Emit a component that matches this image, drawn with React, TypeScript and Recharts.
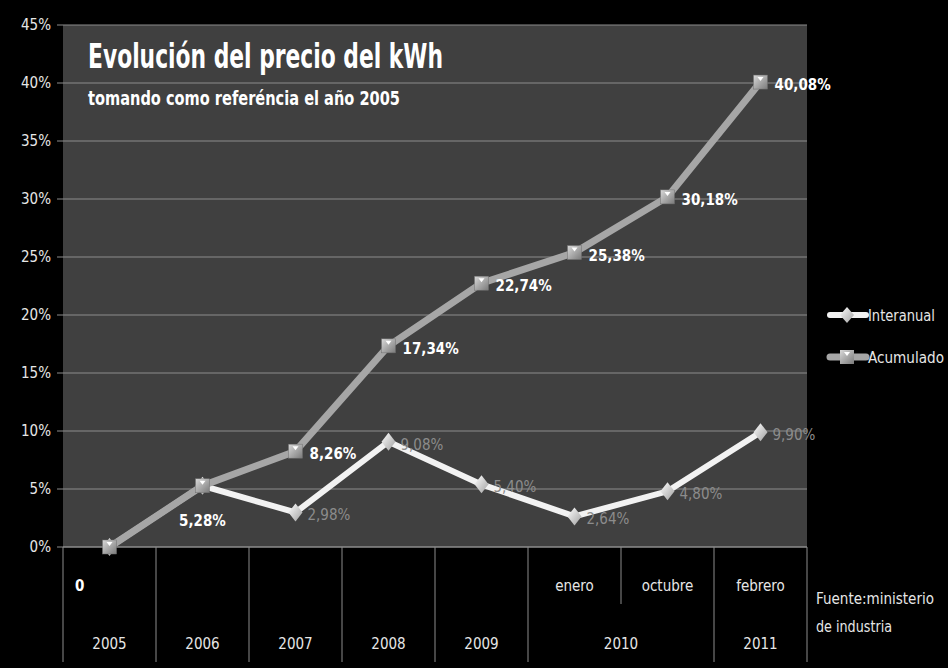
import { LineChart, Line, XAxis, YAxis, CartesianGrid, LabelList } from 'recharts';

const categories = ['2005', '2006', '2007', '2008', '2009', '2010 enero', '2010 octubre', '2011 febrero'];
const subLabels = ['0', '', '', '', '', 'enero', 'octubre', 'febrero'];
const yearLabels = ['2005', '2006', '2007', '2008', '2009', '2010', '', '2011'];
const interanual = [0, 5.28, 2.98, 9.08, 5.4, 2.64, 4.8, 9.9];
const acumulado = [0, 5.28, 8.26, 17.34, 22.74, 25.38, 30.18, 40.08];
const yTicks = [0, 5, 10, 15, 20, 25, 30, 35, 40, 45];

const data = categories.map((name, i) => ({
  name,
  interanual: interanual[i],
  acumulado: acumulado[i],
}));

const FONT = "'Liberation Sans Narrow', 'DejaVu Sans Condensed', 'Open Sans', sans-serif";
const HALF = 46.5;
const fmt = (v: number) => v.toFixed(2).replace('.', ',') + '%';

const CategoryTick = (props: any) => {
  const { x, y, index } = props;
  const left = x - HALF;
  const right = x + HALF;
  const sub = subLabels[index];
  const year = yearLabels[index];
  const yearX = index === 5 ? right : x;
  return (
    <g>
      {index !== 6 ? (
        <line x1={left} y1={y} x2={left} y2={y + 115} stroke="#8c8c8c" strokeWidth={1} />
      ) : (
        <line x1={left} y1={y} x2={left} y2={y + 57} stroke="#8c8c8c" strokeWidth={1} />
      )}
      {index === categories.length - 1 && (
        <line x1={right} y1={y} x2={right} y2={y + 115} stroke="#8c8c8c" strokeWidth={1} />
      )}
      {sub === '0' ? (
        <text x={left + 12} y={y + 44} fill="#ffffff" fontSize={15} fontWeight="bold" fontFamily={FONT}>
          {sub}
        </text>
      ) : sub ? (
        <text x={x} y={y + 44} fill="#e6e6e6" fontSize={15} textAnchor="middle" fontFamily={FONT}>
          {sub}
        </text>
      ) : null}
      {year && (
        <text x={yearX} y={y + 102} fill="#e6e6e6" fontSize={15} textAnchor="middle" fontFamily={FONT}>
          {year}
        </text>
      )}
    </g>
  );
};

const SquareDot = (props: any) => {
  const { cx, cy, index } = props;
  if (cx == null || cy == null) return null;
  return (
    <g key={`sq-${index}`}>
      <rect x={cx - 7} y={cy - 7} width={14} height={14} fill="url(#sqGrad)" stroke="#6e6e6e" strokeWidth={0.5} />
      <polygon points={`${cx - 3},${cy - 5} ${cx + 3},${cy - 5} ${cx},${cy - 1}`} fill="#ffffff" />
    </g>
  );
};

const DiamondDot = (props: any) => {
  const { cx, cy, index } = props;
  if (cx == null || cy == null) return null;
  return (
    <polygon
      key={`dm-${index}`}
      points={`${cx},${cy - 9} ${cx + 7},${cy} ${cx},${cy + 9} ${cx - 7},${cy}`}
      fill="url(#dmGrad)"
    />
  );
};

const AcumLabel = (props: any) => {
  const { x, y, index, value } = props;
  if (index === 0) return null;
  if (index === 1) {
    return (
      <text x={x} y={y + 40} fill="#ffffff" fontSize={15} fontWeight="bold" textAnchor="middle" fontFamily={FONT}>
        {fmt(value)}
      </text>
    );
  }
  return (
    <text x={x + 14} y={y + 8} fill="#ffffff" fontSize={15} fontWeight="bold" fontFamily={FONT}>
      {fmt(value)}
    </text>
  );
};

const InterLabel = (props: any) => {
  const { x, y, index, value } = props;
  if (index < 2) return null;
  return (
    <text x={x + 12} y={y + 8} fill="#8c8c8c" fontSize={15} fontFamily={FONT}>
      {fmt(value)}
    </text>
  );
};

export default function App() {
  return (
    <div style={{ position: 'absolute', left: 0, top: 0, width: 948, height: 668, background: '#000' }}>
      <LineChart
        width={948}
        height={668}
        data={data}
        margin={{ top: 25, right: 141, bottom: 0, left: 0 }}
      >
        <defs>
          <linearGradient id="sqGrad" x1="0" y1="0" x2="1" y2="1">
            <stop offset="0%" stopColor="#d9d9d9" />
            <stop offset="100%" stopColor="#7a7a7a" />
          </linearGradient>
          <linearGradient id="dmGrad" x1="0" y1="0" x2="1" y2="1">
            <stop offset="0%" stopColor="#ffffff" />
            <stop offset="100%" stopColor="#a0a0a0" />
          </linearGradient>
        </defs>
        <CartesianGrid vertical={false} stroke="#8c8c8c" fill="#404040" />
        <XAxis
          dataKey="name"
          interval={0}
          padding={{ left: HALF, right: HALF }}
          height={121}
          tickSize={0}
          tickMargin={0}
          axisLine={{ stroke: '#8c8c8c' }}
          tick={<CategoryTick />}
        />
        <YAxis
          width={63}
          domain={[0, 45]}
          ticks={yTicks}
          tickFormatter={(v: number) => `${v}%`}
          axisLine={false}
          tickLine={{ stroke: '#8c8c8c' }}
          tickSize={6}
          tickMargin={6}
          tick={{ fill: '#e6e6e6', fontSize: 15, fontFamily: FONT }}
        />
        <Line
          dataKey="interanual"
          stroke="#f2f2f2"
          strokeWidth={6}
          dot={<DiamondDot />}
          activeDot={false}
          isAnimationActive={false}
        >
          <LabelList dataKey="interanual" content={<InterLabel />} />
        </Line>
        <Line
          dataKey="acumulado"
          stroke="#a6a6a6"
          strokeWidth={7}
          dot={<SquareDot />}
          activeDot={false}
          isAnimationActive={false}
        >
          <LabelList dataKey="acumulado" content={<AcumLabel />} />
        </Line>
      </LineChart>
      <svg
        width={948}
        height={668}
        style={{ position: 'absolute', left: 0, top: 0, pointerEvents: 'none' }}
      >
        <text x={88} y={68} fill="#ffffff" fontSize={34} fontWeight="bold" fontFamily={FONT} textLength={355} lengthAdjust="spacingAndGlyphs">
          Evolución del precio del kWh
        </text>
        <text x={88} y={105} fill="#ffffff" fontSize={19} fontWeight="bold" fontFamily={FONT} textLength={312} lengthAdjust="spacingAndGlyphs">
          tomando como referéncia el año 2005
        </text>
        <line x1={830} y1={315} x2={866} y2={315} stroke="#f2f2f2" strokeWidth={6} strokeLinecap="round" />
        <polygon points="847,307 854,315 847,323 840,315" fill="url(#dmGrad2)" />
        <text x={868} y={321} fill="#e6e6e6" fontSize={15} fontFamily={FONT} textLength={67} lengthAdjust="spacingAndGlyphs">Interanual</text>
        <line x1={830} y1={357} x2={866} y2={357} stroke="#a6a6a6" strokeWidth={7} strokeLinecap="round" />
        <rect x={840} y={350} width={14} height={14} fill="url(#sqGrad2)" />
        <polygon points="844,352 850,352 847,356" fill="#ffffff" />
        <text x={868} y={363} fill="#e6e6e6" fontSize={15} fontFamily={FONT} textLength={76} lengthAdjust="spacingAndGlyphs">Acumulado</text>
        <text x={816} y={604} fill="#e6e6e6" fontSize={15} fontFamily={FONT} textLength={118} lengthAdjust="spacingAndGlyphs">Fuente:ministerio</text>
        <text x={816} y={632} fill="#e6e6e6" fontSize={15} fontFamily={FONT} textLength={76} lengthAdjust="spacingAndGlyphs">de industria</text>
        <defs>
          <linearGradient id="sqGrad2" x1="0" y1="0" x2="1" y2="1">
            <stop offset="0%" stopColor="#d9d9d9" />
            <stop offset="100%" stopColor="#7a7a7a" />
          </linearGradient>
          <linearGradient id="dmGrad2" x1="0" y1="0" x2="1" y2="1">
            <stop offset="0%" stopColor="#ffffff" />
            <stop offset="100%" stopColor="#a0a0a0" />
          </linearGradient>
        </defs>
      </svg>
    </div>
  );
}
